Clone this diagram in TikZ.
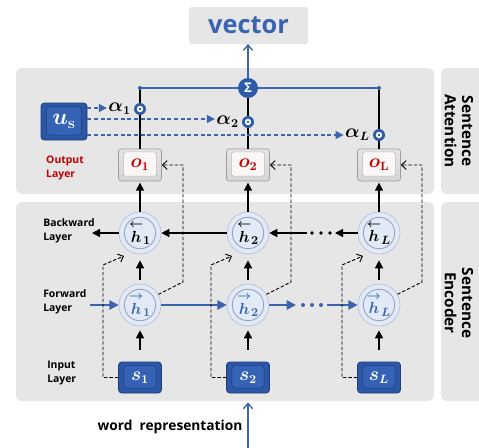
\documentclass[tikz,border=0pt]{standalone}
\usepackage{amsmath,bm}
\usepackage[no-math]{fontspec}
\setmainfont{Open Sans}
\usetikzlibrary{arrows.meta,calc}

\definecolor{panelgray}{HTML}{E6E6E6}
\definecolor{bluec}{HTML}{3A64AE}
\definecolor{sigblue}{HTML}{2D5BA6}
\definecolor{boxblue}{HTML}{2D57A6}
\definecolor{boxblueedge}{HTML}{1C3D7E}
\definecolor{boxbluein}{HTML}{3562B4}
\definecolor{hfill}{HTML}{E2EAF7}
\definecolor{hedge}{HTML}{B4C0D4}
\definecolor{hring}{HTML}{98A6BE}
\definecolor{ofill}{HTML}{D6D6D6}
\definecolor{oedge}{HTML}{9C9C9C}
\definecolor{oin}{HTML}{FBF7F7}
\definecolor{redc}{HTML}{C00000}

% arrow accents over the hidden states
\newcommand{\bk}[1]{\overset{\scriptstyle\bm{\leftarrow}}{\bm{#1}}}
\newcommand{\fw}[1]{\overset{\scriptstyle\bm{\rightarrow}}{\bm{#1}}}

\begin{document}
\begin{tikzpicture}[x=0.75pt,y=-0.75pt,
  hnode/.style={circle, minimum size=31.5pt, inner sep=0pt, fill=hfill, draw=hedge, line width=0.5pt,
    path picture={\draw[hring,line width=0.7pt] (path picture bounding box.center) circle (11.8pt);},
    font=\fontsize{13}{13}\selectfont},
  obox/.style={rectangle, rounded corners=2pt, minimum width=32.25pt, minimum height=24pt, inner sep=0pt,
    top color=ofill!60, bottom color=ofill, draw=oedge, line width=0.5pt, text=redc,
    path picture={\draw[oedge!70,fill=oin,line width=0.4pt]
      ([shift={(3.6pt,3.6pt)}]path picture bounding box.south west) rectangle
      ([shift={(-3.6pt,-2.2pt)}]path picture bounding box.north east);},
    font=\fontsize{13.5}{13.5}\selectfont},
  sbox/.style={rectangle, rounded corners=2.5pt, minimum width=32.25pt, minimum height=23.25pt, inner sep=0pt,
    fill=boxblue, draw=boxblueedge, line width=0.6pt, text=white,
    path picture={\draw[boxblueedge,fill=boxbluein,line width=0.4pt]
      ([shift={(4pt,3.6pt)}]path picture bounding box.south west) rectangle
      ([shift={(-4pt,-2.6pt)}]path picture bounding box.north east);},
    font=\fontsize{13.5}{13.5}\selectfont},
  acirc/.style={circle, fill=sigblue, minimum size=9pt, inner sep=0pt,
    path picture={\fill[white] (path picture bounding box.center) circle (2.4pt);
      \fill[sigblue] (path picture bounding box.center) circle (1pt);}},
  sig/.style={circle, fill=sigblue, minimum size=15pt, inner sep=0pt, text=white,
    font=\fontsize{10}{10}\selectfont\bfseries},
  mathlab/.style={inner sep=1pt, font=\fontsize{13.5}{13.5}\selectfont},
  lab/.style={font=\fontsize{7.8}{10.5}\selectfont\bfseries, align=left, inner sep=0pt},
  sidelab/.style={font=\fontsize{11.5}{13}\selectfont\bfseries, align=center, rotate=-90, inner sep=0pt},
  blk/.style={line width=1.1pt, -{Triangle[length=6pt,width=6pt]}},
  blkline/.style={line width=1.1pt},
  blu/.style={draw=bluec, line width=1.3pt, -{Triangle[length=7pt,width=7pt]}},
  bluthin/.style={draw=bluec, line width=1pt, -{Straight Barb[length=4pt,width=7pt]}},
  dsh/.style={line width=0.7pt, dash pattern=on 2.5pt off 1.5pt, -{Straight Barb[length=3.5pt,width=6.5pt]}},
  bdsh/.style={draw=bluec, line width=1pt, dash pattern=on 3pt off 2pt, -{Triangle[length=6pt,width=6pt]}},
  dot/.style={circle, inner sep=0pt, minimum size=3pt}
]
\clip (0,0) rectangle (479,447);

% background panels
\fill[panelgray, rounded corners=4.5pt] (16,68) rectangle (434,194);
\fill[panelgray, rounded corners=4.5pt] (16,202) rectangle (434,401);
\fill[panelgray, rounded corners=4.5pt] (441,68) rectangle (495,194);
\fill[panelgray, rounded corners=4.5pt] (441,202) rectangle (495,401);
\fill[panelgray, rounded corners=2pt] (189,7) rectangle (308,44);

\node[sidelab] (attn) at (459,131) {Sentence\\Attention};
\node[sidelab] (enc) at (459,303) {Sentence\\Encoder};

\node[font=\fontsize{19}{19}\selectfont\bfseries, text=bluec, inner sep=0pt] (vec) at (248.5,25.5) {vector};
\coordinate (vecb) at (248,44);

% output vector sum
\node[sig] (sig) at (248,88) {Σ};
\node[dot, fill=sigblue] (tl) at (140,88) {};
\node[dot, fill=sigblue] (tr) at (379,88) {};
\draw[bluec, line width=1pt] (tl) -- (sig) -- (tr);
\draw[bluthin] (sig.north) -- (vecb);

% attention weights
\node[acirc] (a1) at (140,109) {};
\node[acirc] (a2) at (248,122) {};
\node[acirc] (aL) at (379,135) {};
\node[mathlab, anchor=east] (al1) at ([xshift=-1pt]a1.west) {$\bm{\alpha}_{\bm 1}$};
\node[mathlab, anchor=east] (al2) at ([xshift=-1pt]a2.west) {$\bm{\alpha}_{\bm 2}$};
\node[mathlab, anchor=east] (alL) at ([xshift=-1pt]aL.west) {$\bm{\alpha}_{\bm L}$};

% output layer
\node[obox] (o1) at (140,165) {$\bm{o}_{\bm 1}$};
\node[obox] (o2) at (248,165) {$\bm{o}_{\bm 2}$};
\node[obox] (oL) at (379,165) {$\bm{o}_{\mathbf{L}}$};

\draw[blkline] (tl) -- (a1.north) (a1.south) -- (o1.north);
\draw[blkline] (sig.south) -- (a2.north) (a2.south) -- (o2.north);
\draw[blkline] (tr) -- (aL.north) (aL.south) -- (oL.north);

% context vector
\node[sbox, minimum width=34.5pt, minimum height=27.75pt, font=\fontsize{17}{17}\selectfont] (us) at (64,121.5) {$\bm{u}_{\mathbf{s}}$};
\draw[bdsh] (us.east |- 0,108) -- (al1.west |- 0,108);
\draw[bdsh] (us.east |- 0,119) -- (al2.west |- 0,119);
\draw[bdsh] (us.east |- 0,135) -- (alL.west |- 0,135);

\node[lab, text=redc] (outlab) at (65,167.5) {Output\\Layer};

% encoder
\node[hnode] (hb1) at (140,233) {$\bk{h}_{\bm 1}$};
\node[hnode] (hb2) at (248,233) {$\bk{h}_{\bm 2}$};
\node[hnode] (hbL) at (379,233) {$\bk{h}_{\bm L}$};
\node[hnode, text=bluec] (hf1) at (140,305) {$\fw{h}_{\bm 1}$};
\node[hnode, text=bluec] (hf2) at (248,305) {$\fw{h}_{\bm 2}$};
\node[hnode, text=bluec] (hfL) at (379,305) {$\fw{h}_{\bm L}$};
\node[sbox] (s1) at (140,377.5) {$\bm{s}_{\bm 1}$};
\node[sbox] (s2) at (248,377.5) {$\bm{s}_{\bm 2}$};
\node[sbox] (sL) at (379,377.5) {$\bm{s}_{\bm L}$};

\node[lab, anchor=west] (bwlab) at (43,231) {Backward\\Layer};
\node[lab, anchor=west] (fwlab) at (43,302) {Forward\\Layer};
\node[lab, anchor=west] (inlab) at (47,373) {Input\\Layer};

% vertical flow
\foreach \c in {1,2,L}{
  \draw[blk, shorten <=9pt, shorten >=3pt] (s\c.north) -- (hf\c.south);
  \draw[blk, shorten <=3pt, shorten >=4.5pt] (hf\c.north) -- (hb\c.south);
  \draw[blk, shorten >=1pt] (hb\c.north) -- (o\c.south);
}

% backward recurrence
\coordinate (bwout) at (92,233);
\coordinate (bwd1) at (307,233);
\coordinate (bwd2) at (335,233);
\draw[blk] (hb1.west) -- (bwout);
\draw[blk] (hb2.west) -- (hb1.east);
\draw[blk] (bwd1) -- (hb2.east);
\draw[blk] (hbL.west) -- (bwd2);
\foreach \x/\n in {312/1,321/2,330/3}
  \node[dot, fill=black, minimum size=2.8pt] (bdot\n) at (\x,233) {};

% forward recurrence
\coordinate (fwin) at (90,305);
\coordinate (fwd1) at (296,305);
\coordinate (fwd2) at (327,305);
\draw[blu] (fwin) -- (hf1.west);
\draw[blu] (hf1.east) -- (hf2.west);
\draw[blu] (hf2.east) -- (fwd1);
\draw[blu] (fwd2) -- (hfL.west);
\foreach \x/\n in {303/1,312/2,321/3}
  \node[dot, fill=bluec, minimum size=3pt] (fdot\n) at (\x,305) {};

% skip connections
\foreach \c in {1,2,L}{
  \draw[dsh] (s\c.west) -| ($(hb\c)+(-37,32)$) -- ($(hb\c)+(-16,23)$);
  \draw[dsh] (hf\c.30) -- ($(hf\c)+(43,-23)$) |- (o\c.east);
}

% input
\node[font=\fontsize{10.3}{12}\selectfont\bfseries, inner sep=0pt] (wordrep) at (170,427) {word\ \ representation};
\coordinate (wrin) at (248,450);
\draw[bluthin, shorten >=6.75pt] (wrin) -- (s2.south);
\end{tikzpicture}
\end{document}
